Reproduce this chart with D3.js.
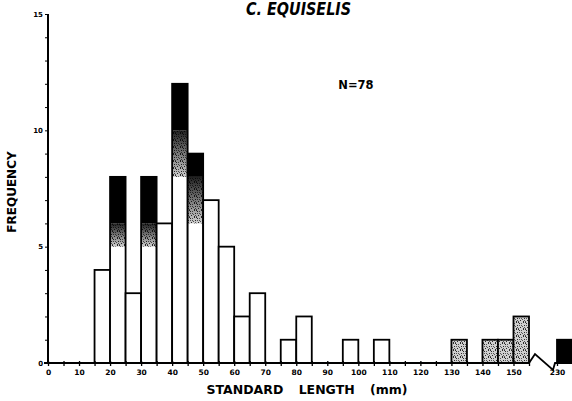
<!DOCTYPE html>
<html>
<head>
<meta charset="utf-8">
<script src="https://cdn.jsdelivr.net/npm/d3@7"></script>
<style>
  body { margin: 0; background: #fff; }
  svg { display: block; }
  text { font-family: "DejaVu Sans", sans-serif; font-weight: bold; fill: #000; }
</style>
</head>
<body>
<div id="chart"></div>
<script>
// bins are 5 mm wide, labelled by their lower edge
var binStart = [15, 20, 25, 30, 35, 40, 45, 50, 55, 60, 65, 75, 80, 95, 105, 130, 140, 145, 150, 230];
var whiteN   = [ 4,  5,  3,  5,  6,  8,  6,  7,  5,  2,  3,  1,  2,  1,  1,   0,   0,   0,   0,   0];
var stippleN = [ 0,  1,  0,  1,  0,  2,  2,  0,  0,  0,  0,  0,  0,  0,  0,   1,   1,   1,   2,   0];
var blackN   = [ 0,  2,  0,  2,  0,  2,  1,  0,  0,  0,  0,  0,  0,  0,  0,   0,   0,   0,   0,   1];
var xTicks = [0, 10, 20, 30, 40, 50, 60, 70, 80, 90, 100, 110, 120, 130, 140, 150, 230];
var yTicks = [0, 5, 10, 15];
var binWidth = 5;

var width = 572, height = 401;

var svg = d3.select("#chart").append("svg")
    .attr("width", width)
    .attr("height", height);

// speckled fill for the stippled part of a bar (fixed dot layout)
var defs = svg.append("defs");
var pat = defs.append("pattern")
    .attr("id", "stipple")
    .attr("width", 7)
    .attr("height", 7)
    .attr("patternUnits", "userSpaceOnUse");
pat.append("rect").attr("width", 7).attr("height", 7).attr("fill", "#cfcfcf");
var dots = [[0,0],[3,1],[5,0],[1,3],[6,3],[4,4],[2,5],[0,6],[5,6],[3,3],[1,1],[6,5]];
dots.forEach(function (p, i) {
  pat.append("rect")
     .attr("x", p[0]).attr("y", p[1])
     .attr("width", 1).attr("height", 1)
     .attr("fill", i % 2 ? "#555" : "#2a2a2a");
});

// airbrushed fade under the black tops
var grad = defs.append("linearGradient")
    .attr("id", "fade")
    .attr("x1", 0).attr("y1", 0).attr("x2", 0).attr("y2", 1);
grad.append("stop").attr("offset", "0%").attr("stop-color", "#000").attr("stop-opacity", 0.85);
grad.append("stop").attr("offset", "100%").attr("stop-color", "#000").attr("stop-opacity", 0);

// broken x axis: 0..155 then jump to 230
var x = d3.scaleLinear()
    .domain([0, 155, 230, 235])
    .range([48, 529, 557, 572.5]);

var y = d3.scaleLinear()
    .domain([0, 15])
    .range([363, 14]);

var bins = binStart.map(function (s, i) {
  return {start: s, white: whiteN[i], stipple: stippleN[i], black: blackN[i],
          total: whiteN[i] + stippleN[i] + blackN[i]};
});

var g = svg.append("g").selectAll(".bar")
    .data(bins)
  .enter()
    .append("g")
    .attr("class", "bar");

function segment(sel, lo, hi, fill) {
  sel.append("rect")
     .attr("x", function (d) { return x(d.start); })
     .attr("width", function (d) { return x(d.start + binWidth) - x(d.start); })
     .attr("y", function (d) { return y(hi(d)); })
     .attr("height", function (d) { return y(lo(d)) - y(hi(d)); })
     .attr("fill", fill);
}

segment(g, function (d) { return 0; }, function (d) { return d.white; }, "#fff");
segment(g, function (d) { return d.white; }, function (d) { return d.white + d.stipple; }, "url(#stipple)");
segment(g.filter(function (d) { return d.black > 0 && d.stipple > 0; }),
        function (d) { return d.white; }, function (d) { return d.white + d.stipple; }, "url(#fade)");
segment(g, function (d) { return d.white + d.stipple; }, function (d) { return d.total; }, "#000");

g.append("rect")
   .attr("x", function (d) { return x(d.start); })
   .attr("width", function (d) { return x(d.start + binWidth) - x(d.start); })
   .attr("y", function (d) { return y(d.total); })
   .attr("height", function (d) { return y(0) - y(d.total); })
   .attr("fill", "none")
   .attr("stroke", "#000")
   .attr("stroke-width", 1.8);

// y axis
var yAxis = d3.axisLeft(y)
    .tickValues(d3.range(0, 16))
    .tickSize(3)
    .tickPadding(2)
    .tickFormat(function (d) { return yTicks.indexOf(d) >= 0 ? d : ""; });

var ya = svg.append("g")
    .attr("transform", "translate(" + x(0) + ",0)")
    .call(yAxis);
ya.select(".domain").attr("stroke-width", 2).attr("d", "M0," + y(0) + "V" + y(15));
ya.selectAll("text").style("font-size", "7px");

// x axis, drawn without its own baseline so the break can be added
var xTickVals = d3.range(0, 160, 5).concat([230]);
var xAxis = d3.axisBottom(x)
    .tickValues(xTickVals)
    .tickSize(3)
    .tickPadding(4)
    .tickFormat(function (d) { return xTicks.indexOf(d) >= 0 ? d : ""; });

var xa = svg.append("g")
    .attr("transform", "translate(0," + y(0) + ")")
    .call(xAxis);
xa.select(".domain").remove();
xa.selectAll(".tick line").attr("y1", -2).attr("stroke-width", 1.3);
xa.selectAll("text").style("font-size", "7.5px");

var y0 = y(0);
svg.append("path")
    .attr("d", "M" + (x(0) - 4) + "," + y0 + "H" + x(155) +
               "L" + (x(155) + 6) + "," + (y0 - 9) +
               "L" + (x(230) - 4) + "," + (y0 + 7) +
               "L" + (x(230) - 2) + "," + y0 + "H" + width)
    .attr("fill", "none")
    .attr("stroke", "#000")
    .attr("stroke-width", 1.8);

// titles
svg.append("text")
    .attr("x", 246)
    .attr("y", 15)
    .attr("textLength", 105)
    .attr("lengthAdjust", "spacingAndGlyphs")
    .style("font-family", "'Liberation Sans Narrow', 'DejaVu Sans Condensed', sans-serif")
    .style("font-style", "italic")
    .style("font-size", "17px")
    .text("C. EQUISELIS");

svg.append("text")
    .attr("x", 356)
    .attr("y", 89)
    .attr("text-anchor", "middle")
    .style("font-size", "11.5px")
    .text("N=78");

svg.append("text")
    .attr("transform", "translate(16,192) rotate(-90)")
    .attr("text-anchor", "middle")
    .style("font-size", "12px")
    .text("FREQUENCY");

svg.append("text")
    .attr("x", 307)
    .attr("y", 394)
    .attr("text-anchor", "middle")
    .style("font-size", "12.5px")
    .style("word-spacing", "11px")
    .text("STANDARD LENGTH (mm)");
</script>
</body>
</html>
